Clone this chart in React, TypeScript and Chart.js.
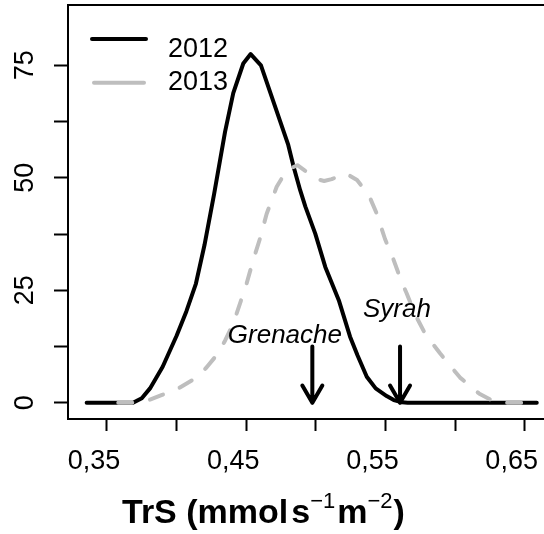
import React, { useEffect, useRef } from 'react';
import { Chart, registerables } from 'chart.js';

Chart.register(...registerables);

// ---------- data ----------
const SERIES_LABELS = ['2012', '2013'];

const X_2012 = [0.3354, 0.3687, 0.375, 0.3809, 0.39, 0.4, 0.407, 0.4139, 0.42, 0.427, 0.4348, 0.4407, 0.4479, 0.4532, 0.4606, 0.4802, 0.4841, 0.4887, 0.4925, 0.4996, 0.5068, 0.5165, 0.5246, 0.53, 0.5366, 0.543, 0.5509, 0.556, 0.562, 0.566, 0.6587];
const Y_2012 = [0, 0, 1.0, 3.2, 8.0, 14.9, 20.3, 26.5, 35.0, 46.5, 60.2, 68.8, 75.4, 77.5, 75.0, 57.3, 52.4, 47.3, 43.6, 37.6, 30.2, 22.8, 14.7, 10.5, 5.8, 3.2, 1.5, 0.6, 0.1, 0, 0];

const X_2013 = [0.3581, 0.3687, 0.375, 0.3809, 0.39, 0.4024, 0.4144, 0.4216, 0.4288, 0.4348, 0.4407, 0.446, 0.4503, 0.4551, 0.4599, 0.4647, 0.4719, 0.4791, 0.4868, 0.4935, 0.5006, 0.506, 0.5114, 0.5215, 0.5296, 0.538, 0.5437, 0.5497, 0.5557, 0.5617, 0.5653, 0.5714, 0.5786, 0.5892, 0.6036, 0.6175, 0.6285, 0.6371, 0.6515];
const Y_2013 = [0, 0, 0.3, 0.7, 1.8, 3.4, 5.6, 7.9, 10.6, 13.8, 17.6, 22.5, 26.5, 31.8, 36.5, 42.0, 48.0, 51.7, 52.8, 51.3, 49.7, 49.3, 49.7, 51.0, 49.5, 46.2, 42.1, 36.4, 31.9, 26.8, 24.3, 19.6, 15.3, 11.0, 5.6, 2.0, 0.2, 0, 0];

const X_TICKS = [0.35, 0.4, 0.45, 0.5, 0.55, 0.6, 0.65];
const X_TICK_LABELS = ['0,35', '', '0,45', '', '0,55', '', '0,65'];
const Y_TICKS = [0, 12.5, 25, 37.5, 50, 62.5, 75];
const Y_TICK_LABELS = ['0', '', '25', '', '50', '', '75'];

const X_MIN = 0.322;
const X_MAX = 0.6639;
const Y_MIN = -3.6;
const Y_MAX = 88.4;

const ANNOT_LABELS = ['Grenache', 'Syrah'];
const ANNOT_X = [0.4778, 0.5583];
const ANNOT_Y = [13.4, 19.1];
const ARROW_X = [0.4975, 0.5605];
const ARROW_FROM = 12.5;
const ARROW_TO = 0;

const TITLE_PARTS = ['TrS (mmol', 's', '\u22121', 'm', '\u22122', ')'];
const TITLE_SUP = [false, false, true, false, true, false];
const TITLE_GAP = [3, 0, 2, 0, 1, 0];

const FONT = '"Liberation Sans", Arial, Helvetica, sans-serif';

const boxPlugin = {
  id: 'rbox',
  afterDraw(chart: any) {
    const { ctx, chartArea } = chart;
    ctx.save();
    ctx.strokeStyle = '#000';
    ctx.lineWidth = 2;
    ctx.beginPath();
    ctx.moveTo(chartArea.left - 1, chartArea.top);
    ctx.lineTo(chartArea.right + 2, chartArea.top);
    ctx.moveTo(chartArea.left, chartArea.top - 1);
    ctx.lineTo(chartArea.left, chartArea.top + 2);
    ctx.stroke();
    ctx.restore();
  },
};

const annotPlugin = {
  id: 'annot',
  afterDatasetsDraw(chart: any) {
    const { ctx } = chart;
    const xs = chart.scales.x;
    const ys = chart.scales.y;
    ctx.save();
    ctx.strokeStyle = '#000';
    ctx.lineWidth = 4;
    ctx.lineCap = 'round';
    ctx.lineJoin = 'round';
    ARROW_X.forEach((ax) => {
      const px = xs.getPixelForValue(ax);
      const top = ys.getPixelForValue(ARROW_FROM);
      const tip = ys.getPixelForValue(ARROW_TO);
      const hl = 20;
      const ang = Math.PI / 6;
      ctx.beginPath();
      ctx.moveTo(px, top);
      ctx.lineTo(px, tip);
      ctx.moveTo(px - hl * Math.sin(ang), tip - hl * Math.cos(ang));
      ctx.lineTo(px, tip);
      ctx.lineTo(px + hl * Math.sin(ang), tip - hl * Math.cos(ang));
      ctx.stroke();
    });
    ctx.fillStyle = '#000';
    ctx.font = 'italic 26px ' + FONT;
    ctx.textAlign = 'center';
    ctx.textBaseline = 'alphabetic';
    ANNOT_LABELS.forEach((t, i) => {
      ctx.fillText(t, xs.getPixelForValue(ANNOT_X[i]), ys.getPixelForValue(ANNOT_Y[i]));
    });
    ctx.restore();
  },
};

const legendPlugin = {
  id: 'rlegend',
  afterDraw(chart: any) {
    const { ctx } = chart;
    const ds = chart.data.datasets;
    const lines = [
      { x1: 92, x2: 146, y: 39 },
      { x1: 94, x2: 144, y: 82.7 },
    ];
    const textBase = [57, 90];
    ctx.save();
    ds.forEach((d: any, i: number) => {
      ctx.strokeStyle = d.borderColor;
      ctx.lineWidth = d.borderWidth;
      ctx.lineCap = 'round';
      ctx.setLineDash([]);
      ctx.beginPath();
      ctx.moveTo(lines[i].x1, lines[i].y);
      ctx.lineTo(lines[i].x2, lines[i].y);
      ctx.stroke();
      ctx.fillStyle = '#000';
      ctx.font = '27px ' + FONT;
      ctx.textAlign = 'left';
      ctx.textBaseline = 'alphabetic';
      ctx.fillText(d.label, 168, textBase[i]);
    });
    ctx.restore();
  },
};

const titlePlugin = {
  id: 'xtitle',
  afterDraw(chart: any) {
    const { ctx } = chart;
    ctx.save();
    ctx.fillStyle = '#000';
    ctx.textAlign = 'left';
    ctx.textBaseline = 'alphabetic';
    let x = 122;
    const base = 523;
    TITLE_PARTS.forEach((t, i) => {
      if (TITLE_SUP[i]) {
        ctx.font = '22px ' + FONT;
        ctx.fillText(t, x, base - 15);
      } else {
        ctx.font = 'bold 34px ' + FONT;
        ctx.fillText(t, x, base);
      }
      x += ctx.measureText(t).width + TITLE_GAP[i];
    });
    ctx.restore();
  },
};

export default function App() {
  const ref = useRef<HTMLCanvasElement | null>(null);
  useEffect(() => {
    if (!ref.current) return;
    const chart = new Chart(ref.current, {
      type: 'line',
      data: {
        datasets: [
          {
            label: SERIES_LABELS[0],
            data: X_2012.map((x, i) => ({ x, y: Y_2012[i] })),
            borderColor: '#000000',
            borderWidth: 4,
            pointRadius: 0,
            tension: 0,
            borderCapStyle: 'round',
            borderJoinStyle: 'round',
            order: 1,
          },
          {
            label: SERIES_LABELS[1],
            data: X_2013.map((x, i) => ({ x, y: Y_2013[i] })),
            borderColor: '#BEBEBE',
            borderWidth: 4,
            borderDash: [14, 18],
            pointRadius: 0,
            tension: 0,
            borderCapStyle: 'round',
            borderJoinStyle: 'round',
            order: 0,
          },
        ],
      },
      options: {
        responsive: false,
        animation: false,
        devicePixelRatio: 1,
        layout: { padding: { top: 5, left: 0, right: 0, bottom: 0 } },
        plugins: { legend: { display: false }, tooltip: { enabled: false } },
        scales: {
          x: {
            type: 'linear',
            min: X_MIN,
            max: X_MAX,
            afterBuildTicks: (s: any) => {
              s.ticks = X_TICKS.map((v) => ({ value: v }));
            },
            afterFit: (s: any) => {
              s.height = 115;
              s.paddingLeft = 0;
              s.paddingRight = 0;
            },
            ticks: {
              autoSkip: false,
              callback: (_v: any, i: number) => X_TICK_LABELS[i],
              font: { family: FONT, size: 27 },
              color: '#000',
              padding: 14,
              labelOffset: -13,
              minRotation: 0,
              maxRotation: 0,
            },
            grid: { drawOnChartArea: false, drawTicks: true, tickLength: 12, tickColor: '#000', tickWidth: 2 },
            border: { display: true, color: '#000', width: 2 },
          },
          y: {
            type: 'linear',
            min: Y_MIN,
            max: Y_MAX,
            afterBuildTicks: (s: any) => {
              s.ticks = Y_TICKS.map((v) => ({ value: v }));
            },
            afterFit: (s: any) => {
              s.width = 68;
              s.paddingTop = 0;
              s.paddingBottom = 0;
            },
            ticks: {
              autoSkip: false,
              callback: (_v: any, i: number) => Y_TICK_LABELS[i],
              font: { family: FONT, size: 27 },
              color: '#000',
              padding: 13,
              minRotation: 90,
              maxRotation: 90,
              crossAlign: 'center',
            },
            grid: { drawOnChartArea: false, drawTicks: true, tickLength: 14, tickColor: '#000', tickWidth: 2 },
            border: { display: true, color: '#000', width: 2 },
          },
        },
      } as any,
      plugins: [boxPlugin, annotPlugin, legendPlugin, titlePlugin],
    });
    return () => chart.destroy();
  }, []);
  return (
    <div style={{ position: 'absolute', left: 0, top: 0, width: 544, height: 534, background: '#fff' }}>
      <canvas ref={ref} width={544} height={534} style={{ display: 'block' }} />
    </div>
  );
}
